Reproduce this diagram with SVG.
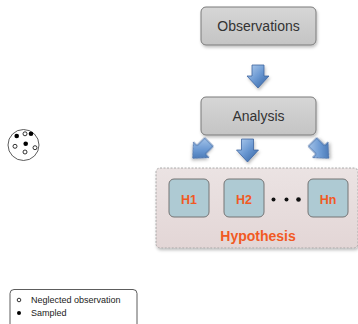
<svg xmlns="http://www.w3.org/2000/svg" width="358" height="324" viewBox="0 0 358 324">
<defs>
<linearGradient id="gbox" x1="0" y1="0" x2="0" y2="1"><stop offset="0" stop-color="#d6d6d6"/><stop offset="1" stop-color="#c4c4c4"/></linearGradient>
<linearGradient id="gpanel" x1="0" y1="0" x2="0" y2="1"><stop offset="0" stop-color="#ebe3e3"/><stop offset="1" stop-color="#e3d6d6"/></linearGradient>
<linearGradient id="garrow" x1="0" y1="0" x2="1" y2="1"><stop offset="0" stop-color="#b5d0ef"/><stop offset="0.5" stop-color="#6a98d2"/><stop offset="1" stop-color="#2f5f9f"/></linearGradient>
<filter id="sh" x="-10%" y="-10%" width="130%" height="140%"><feDropShadow dx="1" dy="2" stdDeviation="1.5" flood-color="#000" flood-opacity="0.25"/></filter>
<path id="arr" d="M-6,-12 H6 V-1 H11 L0,11 L-11,-1 H-6 Z"/>
<style>
.box{fill:url(#gbox);stroke:#7a7a7a;stroke-width:1}
.lbl{font-family:"Liberation Sans",Arial,sans-serif;font-size:14px;fill:#333;text-anchor:middle}
.hbox{fill:#aecad3;stroke:#747474;stroke-width:1}
.hl{font-family:"Liberation Sans",Arial,sans-serif;font-size:12.5px;font-weight:bold;fill:#f15a24;text-anchor:middle}
.arrow{fill:url(#garrow);stroke:#3d64a0;stroke-width:0.8;filter:url(#sh)}
.leg{font-family:"Liberation Sans",Arial,sans-serif;font-size:9px;fill:#222}
.dot{fill:#000}
.hol{fill:#fff;stroke:#000;stroke-width:0.8}
</style>
</defs>
<g id="observations"><rect class="box" x="201" y="7" width="115" height="38" rx="5" filter="url(#sh)"/><text class="lbl" x="258.5" y="31">Observations</text></g>
<g id="analysis"><rect class="box" x="201" y="97" width="115" height="38" rx="5" filter="url(#sh)"/><text class="lbl" x="258.5" y="121">Analysis</text></g>
<g id="hypothesis"><rect x="156" y="168" width="202" height="80" rx="4" fill="url(#gpanel)" stroke="#9a9a9a" stroke-width="0.8" stroke-dasharray="2,1.5" filter="url(#sh)"/><text x="258" y="241" font-family="'Liberation Sans',Arial,sans-serif" font-size="14px" font-weight="bold" fill="#f15a24" text-anchor="middle">Hypothesis</text></g>
<g id="h1"><rect class="hbox" x="169" y="179" width="40" height="38" rx="5"/><text class="hl" x="189" y="204">H1</text></g>
<g id="h2"><rect class="hbox" x="224" y="179" width="40" height="38" rx="5"/><text class="hl" x="244" y="204">H2</text></g>
<g id="hn"><rect class="hbox" x="308" y="179" width="40" height="38" rx="5"/><text class="hl" x="328" y="204">Hn</text></g>
<g id="ellipsis"><circle cx="273.5" cy="199.5" r="2" fill="#111"/><circle cx="286.5" cy="199.5" r="2" fill="#111"/><circle cx="298.5" cy="199.5" r="2.3" fill="#111"/></g>
<g id="connectors">
<use href="#arr" class="arrow" transform="translate(258,77)"/>
<use href="#arr" class="arrow" transform="translate(200.5,150.5) rotate(45)"/>
<use href="#arr" class="arrow" transform="translate(247.5,151)"/>
<use href="#arr" class="arrow" transform="translate(321,150.5) rotate(-45)"/>
</g>
<g id="sample">
<circle cx="23.5" cy="145" r="15.5" fill="#fff" stroke="#333" stroke-width="0.8"/>
<circle class="dot" cx="16.7" cy="136" r="2.3"/>
<circle class="hol" cx="25" cy="133.8" r="2"/>
<circle class="dot" cx="31" cy="133.8" r="2.3"/>
<circle class="dot" cx="25.7" cy="143.7" r="2.3"/>
<circle class="hol" cx="15" cy="146.3" r="2"/>
<circle class="hol" cx="35" cy="147.7" r="2"/>
<circle class="hol" cx="25" cy="152" r="2"/>
</g>
<g id="legend">
<rect x="10" y="289.5" width="127" height="44" rx="4" fill="#fff" stroke="#333" stroke-width="0.8"/>
<circle class="hol" cx="19" cy="300" r="1.8"/>
<text class="leg" x="31" y="303">Neglected observation</text>
<circle class="dot" cx="19" cy="313" r="2"/>
<text class="leg" x="31" y="316">Sampled</text>
</g>
</svg>
